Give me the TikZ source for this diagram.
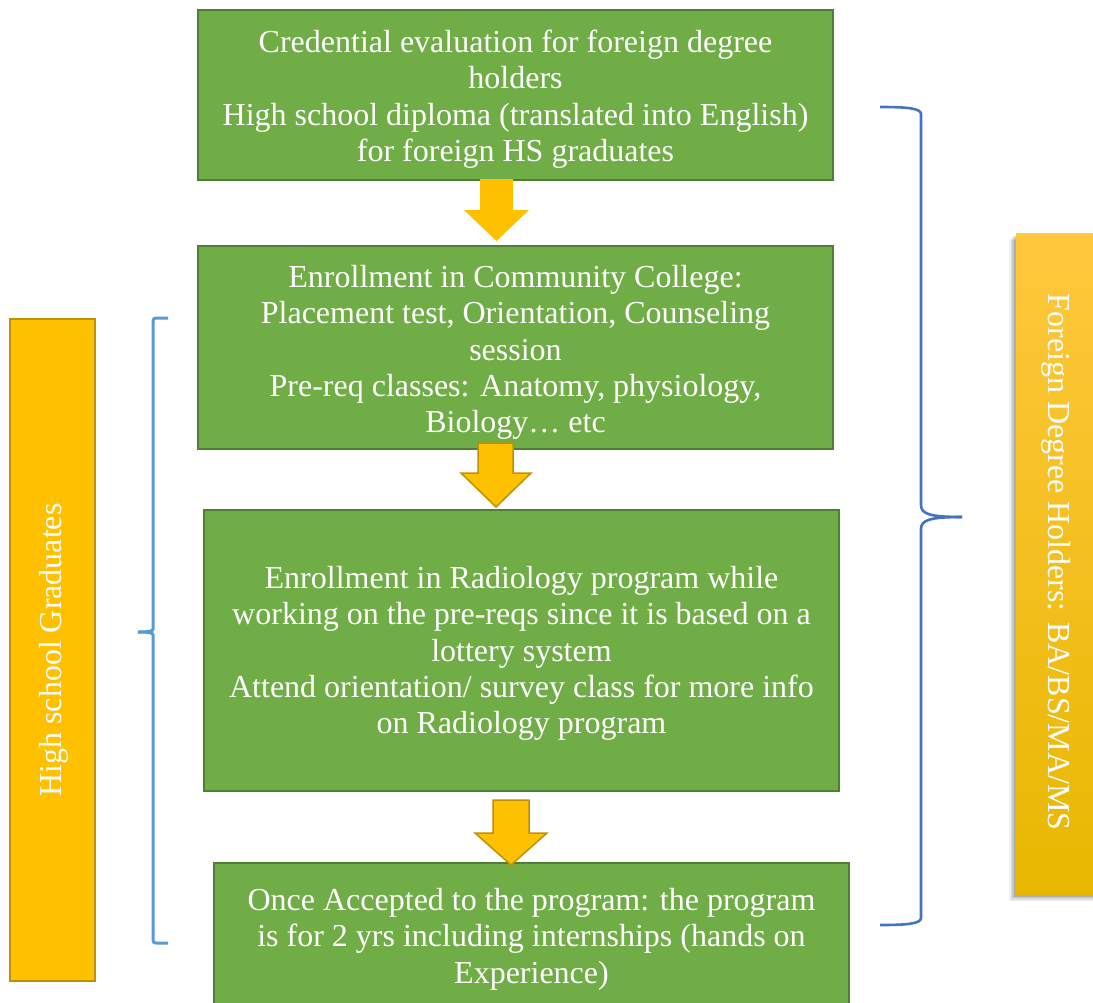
\documentclass[tikz,border=0pt]{standalone}
\usepackage{fontspec}
\setmainfont{Liberation Serif}
\definecolor{gfill}{HTML}{70AD47}
\definecolor{gline}{HTML}{507E32}
\definecolor{yfill}{HTML}{FFC000}
\definecolor{yline}{HTML}{BF9000}
\definecolor{ytop}{HTML}{FFC83D}
\definecolor{ybot}{HTML}{E8B700}
\definecolor{braceA}{HTML}{5B9BD5}
\definecolor{braceB}{HTML}{4472C4}
\begin{document}
\begin{tikzpicture}[x=1pt,y=-1pt,
  greenbox/.style={fill=gfill,draw=gline,line width=2pt,anchor=north west,inner sep=0pt},
  boxtext/.style={anchor=center,inner sep=0pt,text=white,align=center,font=\fontsize{32}{36.4}\selectfont},
  blockarrow/.style={fill=yfill},
  blockarrowb/.style={fill=yfill,draw=yline,line width=1.5pt,line join=miter},
  sidetext/.style={text=white,font=\fontsize{32}{36}\selectfont}]
\useasboundingbox (0,0) rectangle (1093,1002);

% boxes
\node[greenbox,minimum width=635pt,minimum height=170pt] (b1) at (197,9) {};
\node[boxtext] (t1) at ([yshift=-4pt]b1.center)
  {Credential evaluation for foreign degree\\holders\\High school diploma (translated into English)\\for foreign HS graduates};
\node[greenbox,minimum width=635pt,minimum height=203pt] (b2) at (197,245) {};
\node[boxtext] (t2) at ([yshift=-5pt]b2.center)
  {Enrollment in Community College:\\Placement test, Orientation, Counseling\\session\\Pre-req classes: Anatomy, physiology,\\Biology\ldots\ etc};
\node[greenbox,minimum width=635pt,minimum height=281pt] (b3) at (203,509) {};
\node[boxtext] (t3) at ([yshift=-3pt]b3.center)
  {Enrollment in Radiology program while\\working on the pre-reqs since it is based on a\\lottery system\\Attend orientation/ survey class for more info\\on Radiology program};
\node[greenbox,minimum width=635pt,minimum height=148pt] (b4) at (213,862) {};
\node[boxtext] (t4) at ([yshift=-2pt]b4.center)
  {Once Accepted to the program: the program\\is for 2 yrs including internships (hands on\\Experience)};

% block arrows
\path[blockarrow] (480,179) -- (513,179) -- (513,210) -- (529,210) -- (496.5,241) -- (464,210) -- (480,210) -- cycle;
\path[blockarrowb] (478,443) -- (513,443) -- (513,473) -- (531,473) -- (496,507) -- (461,473) -- (478,473) -- cycle;
\path[blockarrowb] (493,800) -- (529,800) -- (529,833) -- (547,833) -- (511,865) -- (475,833) -- (493,833) -- cycle;

% left side box
\node[fill=yfill,draw=yline,line width=2pt,anchor=north west,minimum width=85pt,minimum height=662pt,inner sep=0pt] (lb) at (9,318) {};
\node[sidetext,rotate=90] (lt) at (54,650) {High school Graduates};

% right side box with shadow
\foreach \o/\a in {7/0.06,5.5/0.08,4/0.1,2.5/0.12} {
  \fill[black,opacity=\a] (1016-\o,233+\o) rectangle (1100,894+\o);
}
\node[top color=ytop,bottom color=ybot,anchor=north west,minimum width=90pt,minimum height=661pt,inner sep=0pt] (rb) at (1016,233) {};
\node[sidetext,rotate=-90] (rt) at (1056,562) {Foreign Degree Holders: BA/BS/MA/MS};

% braces
\coordinate (lbt) at (168,318);
\coordinate (lbb) at (168,943);
\coordinate (lbm) at (138,632);
\draw[braceA,line width=3pt] (lbt) -- (156,318) .. controls (154,318) and (153,319) .. (153,321) -- (153,629) .. controls (153,631) and (150,632) .. (lbm);
\draw[braceA,line width=3pt] (lbm) .. controls (150,632) and (153,633) .. (153,635) -- (153,940) .. controls (153,942) and (154,943) .. (156,943) -- (lbb);

\coordinate (rbt) at (880,107);
\coordinate (rbb) at (880,925);
\coordinate (rbm) at (962,517);
\draw[braceB,line width=2.6pt] (rbt) .. controls (905,107) and (921,108) .. (921,114) -- (921,505) .. controls (921,514) and (930,517) .. (rbm);
\draw[braceB,line width=2.6pt] (rbm) .. controls (930,517) and (921,520) .. (921,529) -- (921,918) .. controls (921,924) and (905,925) .. (rbb);
\end{tikzpicture}
\end{document}
